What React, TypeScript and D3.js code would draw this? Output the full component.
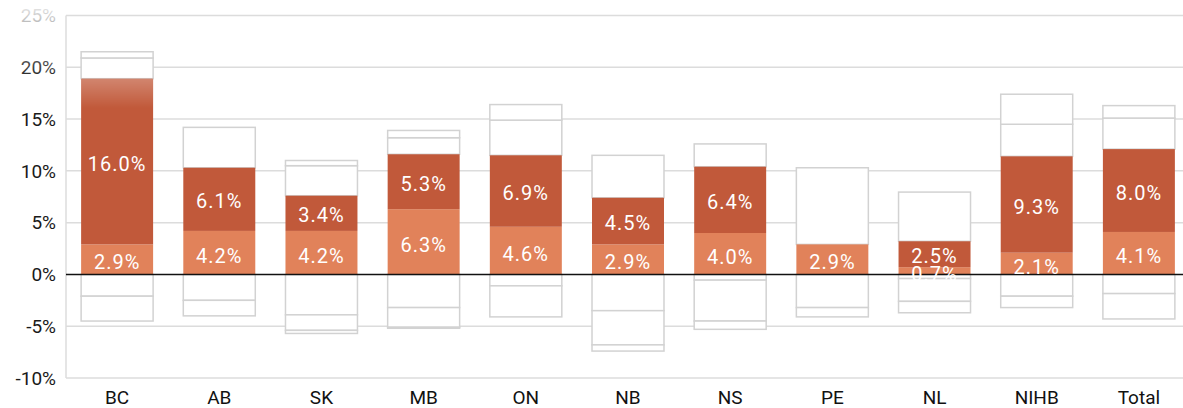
import React from 'react'
import * as d3 from 'd3'

const categories = ['BC', 'AB', 'SK', 'MB', 'ON', 'NB', 'NS', 'PE', 'NL', 'NIHB', 'Total']
// lower (light) and upper (dark) stacked segments, in %
const baseValues = [2.9, 4.2, 4.2, 6.3, 4.6, 2.9, 4.0, 2.9, 0.7, 2.1, 4.1]
const growthValues = [16.0, 6.1, 3.4, 5.3, 6.9, 4.5, 6.4, 0, 2.5, 9.3, 8.0]
// outline boxes above the bars (levels, in %)
const upperInner = [20.9, 14.2, 10.5, 13.2, 14.9, 11.5, 12.6, 10.3, 7.95, 14.5, 15.1]
const upperOuter = [21.5, 14.2, 11.0, 13.9, 16.4, 11.5, 12.6, 10.3, 7.95, 17.4, 16.3]
// outline boxes below zero (levels, in %)
const lowerInner = [-2.1, -2.5, -3.9, -3.2, -1.1, -3.5, -0.55, -3.2, -0.4, -2.1, -1.85]
const lowerMid = [-4.5, -4.0, -5.4, -5.1, -4.1, -6.8, -4.5, -4.1, -2.6, -3.2, -4.3]
const lowerOuter = [-4.5, -4.0, -5.7, -5.2, -4.1, -7.4, -5.3, -4.1, -3.7, -3.2, -4.3]
const yTicks = [-10, -5, 0, 5, 10, 15, 20, 25]

const W = 1183
const H = 408
const LIGHT = '#e1825a'
const DARK = '#c1593a'
const GRID = '#dcdcdc'
const BOX = '#d2d2d2'
const FONT = 'Roboto, "Noto Sans", sans-serif'

export default function App() {
  const x = d3.scaleBand<string>().domain(categories).range([66, 1190])
    .paddingInner(0.2955).paddingOuter(0.148)
  const y = d3.scaleLinear().domain([-10, 25]).range([378, 15.5])
  const bw = x.bandwidth()
  const fmt = (v: number) => v.toFixed(1) + '%'

  const boxes: { c: string, a: number, b: number }[] = []
  categories.forEach((c, i) => {
    const top = baseValues[i] + growthValues[i]
    const levels = [top, upperInner[i], upperOuter[i]]
    for (let k = 0; k < 2; k++) {
      if (levels[k + 1] - levels[k] > 0.01) boxes.push({ c, a: levels[k], b: levels[k + 1] })
    }
    const low = [0, lowerInner[i], lowerMid[i], lowerOuter[i]]
    for (let k = 0; k < 3; k++) {
      if (low[k] - low[k + 1] > 0.01) boxes.push({ c, a: low[k + 1], b: low[k] })
    }
  })

  return (
    <svg width={W} height={H} style={{ position: 'absolute', left: 0, top: 0, display: 'block', background: '#fff' }}>
      <defs>
        <linearGradient id="barFade" gradientUnits="userSpaceOnUse" x1="0" y1="75" x2="0" y2="108">
          <stop offset="0" stopColor="#fff" stopOpacity="0.3" />
          <stop offset="1" stopColor="#fff" stopOpacity="0" />
        </linearGradient>
        <linearGradient id="labelFade" gradientUnits="userSpaceOnUse" x1="0" y1="8" x2="0" y2="82">
          <stop offset="0" stopColor="#fff" stopOpacity="0.88" />
          <stop offset="1" stopColor="#fff" stopOpacity="0" />
        </linearGradient>
      </defs>

      {/* grid */}
      {yTicks.filter(t => t !== 0).map(t => (
        <line key={t} x1={66} x2={W} y1={y(t)} y2={y(t)} stroke={GRID} strokeWidth={1.5} />
      ))}
      <line x1={66} x2={66} y1={y(25)} y2={y(-10)} stroke={GRID} strokeWidth={1.5} />

      {/* outline boxes */}
      {boxes.map((d, i) => (
        <rect key={'b' + i} x={x(d.c)} y={y(d.b)} width={bw} height={y(d.a) - y(d.b)}
          fill="#fff" stroke={BOX} strokeWidth={1.5} />
      ))}

      {/* bars */}
      {categories.map((c, i) => (
        <g key={c}>
          <rect x={x(c)} y={y(baseValues[i])} width={bw} height={y(0) - y(baseValues[i])} fill={LIGHT} />
          {growthValues[i] > 0 && (
            <>
              <rect x={x(c)} y={y(baseValues[i] + growthValues[i])} width={bw}
                height={y(baseValues[i]) - y(baseValues[i] + growthValues[i])} fill={DARK} />
              <rect x={x(c)} y={y(baseValues[i] + growthValues[i])} width={bw}
                height={y(baseValues[i]) - y(baseValues[i] + growthValues[i])} fill="url(#barFade)" />
            </>
          )}
        </g>
      ))}

      {/* zero line */}
      <line x1={66} x2={W} y1={y(0)} y2={y(0)} stroke="#111" strokeWidth={1.5} />

      {/* value labels */}
      {categories.map((c, i) => (
        <g key={'l' + c} fill="#fff" fontFamily={FONT} fontSize={20} letterSpacing={1} textAnchor="middle">
          <text x={(x(c) as number) + bw / 2} y={y(baseValues[i] / 2) + 3} dy="0.35em">{fmt(baseValues[i])}</text>
          {growthValues[i] > 0 && (
            <text x={(x(c) as number) + bw / 2} y={y(baseValues[i] + growthValues[i] / 2) + 2} dy="0.35em">
              {fmt(growthValues[i])}
            </text>
          )}
        </g>
      ))}

      {/* y axis labels */}
      {yTicks.map(t => (
        <text key={'t' + t} x={56} y={y(t)} dy="0.35em" textAnchor="end" fontFamily={FONT}
          fontSize={19} fill="#1a1a1a">{t + '%'}</text>
      ))}
      <rect x={0} y={0} width={64} height={90} fill="url(#labelFade)" />

      {/* x axis labels */}
      {categories.map(c => (
        <text key={'x' + c} x={(x(c) as number) + bw / 2} y={397} dy="0.35em" textAnchor="middle"
          fontFamily={FONT} fontSize={19} fill="#111">{c}</text>
      ))}
    </svg>
  )
}
